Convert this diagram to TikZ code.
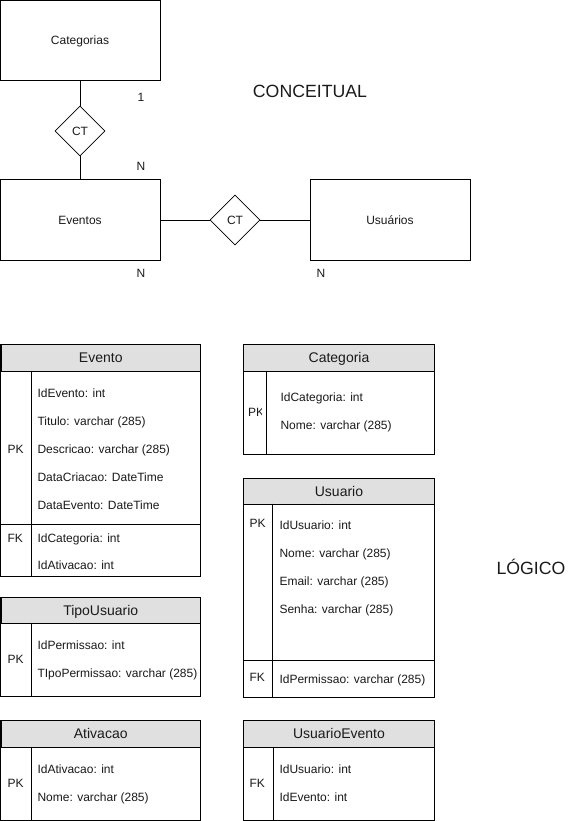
\documentclass[tikz,border=0pt]{standalone}
\usepackage{fontspec}
\setmainfont{Liberation Sans}
\usetikzlibrary{shapes.geometric}
\definecolor{hdrfill}{HTML}{E0E0E0}
\definecolor{ink}{HTML}{1A1A1A}
\begin{document}
\begin{tikzpicture}[x=1pt,y=-1pt,
  line width=1pt,
  every node/.style={text=ink},
  entity/.style={draw=black, fill=white, minimum width=160pt, minimum height=80pt,
    inner sep=0pt, font=\fontsize{12}{14}\selectfont},
  rel/.style={draw=black, fill=white, diamond, aspect=1, minimum size=50pt,
    inner sep=0pt, line width=0.8pt, font=\fontsize{12}{14}\selectfont},
  card/.style={inner sep=0pt, font=\fontsize{12}{14}\selectfont},
  big/.style={inner sep=0pt, font=\fontsize{17.7}{20}\selectfont},
  tframe/.style={draw=black, fill=white},
  hdr/.style={draw=black, fill=hdrfill, inner sep=0pt, anchor=north west,
    text height=10pt, text depth=0pt, font=\fontsize{14}{16}\selectfont},
  fld/.style={anchor=west, inner sep=0pt, text height=8.6pt, text depth=0pt,
    font=\fontsize{12}{14}\selectfont},
  key/.style={fld},
]
\useasboundingbox (0,0) rectangle (571,821);

% ---------- conceptual model ----------
\node[entity, text height=8.6pt, text depth=0pt] (cat) at (80,40.5) {Categorias};
\node[entity, text height=8.6pt, text depth=0pt] (evt) at (80,220) {Eventos};
\node[entity, text height=8.6pt, text depth=0pt] (usu) at (390,220) {Usuários};
\node[rel] (ct1) at (80,131) {CT};
\node[rel] (ct2) at (235,220) {CT};
\draw (cat.south) -- (ct1.north);
\draw (ct1.south) -- (evt.north);
\draw (evt.east) -- (ct2.west);
\draw (ct2.east) -- (usu.west);
\node[card] (c1) at (141,97) {1};
\node[card] (c2) at (141,166) {N};
\node[card] (c3) at (141,273) {N};
\node[card] (c4) at (321,273) {N};
\node[big] (conc) at (310,91) {CONCEITUAL};
\node[big] (logi) at (531,567) {LÓGICO};

% ---------- logical model ----------
% Evento
\draw[tframe] (0.5,344) rectangle (200,576);
\node[hdr, minimum width=199.5pt, minimum height=26.5pt] (evento) at (0.5,344) {Evento};
\draw (31,370.5) -- (31,576);
\draw (0.5,524) -- (200,524);
\node[key] (ev-pk) at (7,449) {PK};
\node[key] (ev-fk) at (7,538) {FK};
\node[fld] (ev-f1) at (37,393) {IdEvento: int};
\node[fld] (ev-f2) at (37,421) {Titulo: varchar (285)};
\node[fld] (ev-f3) at (37,449) {Descricao: varchar (285)};
\node[fld] (ev-f4) at (37,477) {DataCriacao: DateTime};
\node[fld] (ev-f5) at (37,505) {DataEvento: DateTime};
\node[fld] (ev-f6) at (37,538) {IdCategoria: int};
\node[fld] (ev-f7) at (37,565) {IdAtivacao: int};

% Categoria (its key column is too narrow, so the PK label is cut off)
\draw[tframe] (243,344) rectangle (434,454);
\node[hdr, minimum width=191pt, minimum height=26.5pt] (categoria) at (243,344) {Categoria};
\draw (266,370.5) -- (266,454);
\begin{scope}
  \clip (243,371) rectangle (261,453.5);
  \node[key] (ca-pk) at (247.5,412) {PK};
\end{scope}
\node[fld] (ca-f1) at (280,397) {IdCategoria: int};
\node[fld] (ca-f2) at (280,425) {Nome: varchar (285)};

% Usuario
\draw[tframe] (243,478) rectangle (434,697);
\node[hdr, minimum width=191pt, minimum height=25.5pt] (usuario) at (243,478) {Usuario};
\draw (272,503.5) -- (272,697);
\draw (243,660) -- (434,660);
\node[key] (us-pk) at (249,523) {PK};
\node[key] (us-fk) at (249,677) {FK};
\node[fld] (us-f1) at (279,525) {IdUsuario: int};
\node[fld] (us-f2) at (279,553) {Nome: varchar (285)};
\node[fld] (us-f3) at (279,581) {Email: varchar (285)};
\node[fld] (us-f4) at (279,609) {Senha: varchar (285)};
\node[fld] (us-f5) at (279,679) {IdPermissao: varchar (285)};

% TipoUsuario
\draw[tframe] (0.5,597) rectangle (200,696);
\node[hdr, minimum width=199.5pt, minimum height=25.5pt] (tipousuario) at (0.5,597) {TipoUsuario};
\draw (31,622.5) -- (31,696);
\node[key] (tu-pk) at (7,659) {PK};
\node[fld] (tu-f1) at (37,645) {IdPermissao: int};
\node[fld] (tu-f2) at (37,673) {TIpoPermissao: varchar (285)};

% Ativacao
\draw[tframe] (0.5,720) rectangle (200,820);
\node[hdr, minimum width=199.5pt, minimum height=26.5pt] (ativacao) at (0.5,720) {Ativacao};
\draw (31,746.5) -- (31,820);
\node[key] (at-pk) at (7,783) {PK};
\node[fld] (at-f1) at (37,769) {IdAtivacao: int};
\node[fld] (at-f2) at (37,797) {Nome: varchar (285)};

% UsuarioEvento
\draw[tframe] (243,720) rectangle (434,820);
\node[hdr, minimum width=191pt, minimum height=26.5pt] (usuarioevento) at (243,720) {UsuarioEvento};
\draw (273,746.5) -- (273,820);
\node[key] (ue-fk) at (249,783) {FK};
\node[fld] (ue-f1) at (279,769) {IdUsuario: int};
\node[fld] (ue-f2) at (279,797) {IdEvento: int};
\end{tikzpicture}
\end{document}
